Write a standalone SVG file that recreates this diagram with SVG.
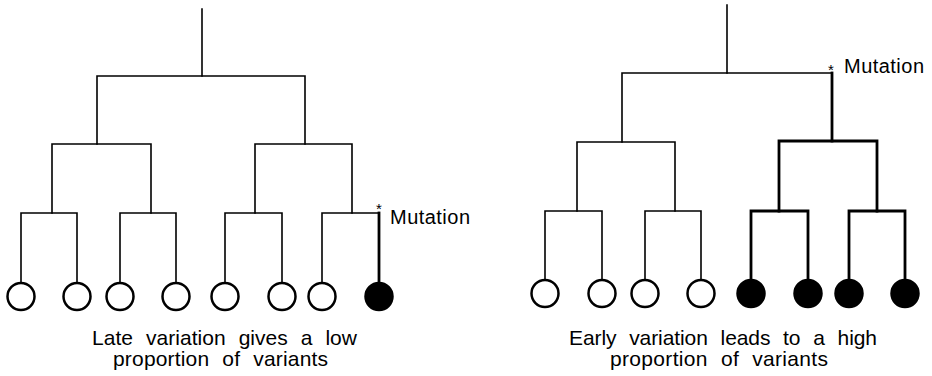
<svg xmlns="http://www.w3.org/2000/svg" width="932" height="376" viewBox="0 0 932 376">
<style>
.c{fill:none;stroke:#000;stroke-width:1.6;stroke-linecap:square}
.b{fill:none;stroke:#000;stroke-width:2.8;stroke-linecap:square}
.open{fill:#fff;stroke:#000;stroke-width:2.5}
.full{fill:#000;stroke:#000;stroke-width:2.5}
text{font-family:"Liberation Sans",Arial,Helvetica,sans-serif;fill:#000}
.cap{font-size:21px;word-spacing:7px}
.mut{font-size:20px}
.ast{font-size:15px}
</style>
<rect width="932" height="376" fill="#fff"/>
<g id="connectors">
  <path class="c" d="M202 9V76"/>
  <path class="c" d="M97 144V76H305V144"/>
  <path class="c" d="M52 213V144H151V213"/>
  <path class="c" d="M255 213V144H352V213"/>
  <path class="c" d="M21 282V213H77V282"/>
  <path class="c" d="M120 282V213H176V282"/>
  <path class="c" d="M225 282V213H282V282"/>
  <path class="c" d="M322 282V213H379"/>
  <path class="b" d="M379 213V282"/>
  <path class="c" d="M727 5V73"/>
  <path class="c" d="M622 142V73H832"/>
  <path class="b" d="M832 73V141"/>
  <path class="c" d="M577 211V142H675V211"/>
  <path class="b" d="M779 211V141H877V211"/>
  <path class="c" d="M545 279V211H602V279"/>
  <path class="c" d="M645 279V211H701V279"/>
  <path class="b" d="M751 279V211H808V279"/>
  <path class="b" d="M849 279V211H905V279"/>
</g>
<g id="leaf-L1"><circle class="open" cx="21" cy="296.5" r="13.5"/></g>
<g id="leaf-L2"><circle class="open" cx="77" cy="296.5" r="13.5"/></g>
<g id="leaf-L3"><circle class="open" cx="120" cy="296.5" r="13.5"/></g>
<g id="leaf-L4"><circle class="open" cx="176" cy="296.5" r="13.5"/></g>
<g id="leaf-L5"><circle class="open" cx="225" cy="296.5" r="13.5"/></g>
<g id="leaf-L6"><circle class="open" cx="282" cy="296.5" r="13.5"/></g>
<g id="leaf-L7"><circle class="open" cx="322" cy="296.5" r="13.5"/></g>
<g id="leaf-L8"><circle class="full" cx="379" cy="296.5" r="13.5"/></g>
<g id="leaf-R1"><circle class="open" cx="545" cy="293.5" r="13.5"/></g>
<g id="leaf-R2"><circle class="open" cx="602" cy="293.5" r="13.5"/></g>
<g id="leaf-R3"><circle class="open" cx="645" cy="293.5" r="13.5"/></g>
<g id="leaf-R4"><circle class="open" cx="701" cy="293.5" r="13.5"/></g>
<g id="leaf-R5"><circle class="full" cx="751" cy="293.5" r="13.5"/></g>
<g id="leaf-R6"><circle class="full" cx="808" cy="293.5" r="13.5"/></g>
<g id="leaf-R7"><circle class="full" cx="849" cy="293.5" r="13.5"/></g>
<g id="leaf-R8"><circle class="full" cx="905" cy="293.5" r="13.5"/></g>
<g id="mutation-left">
  <text class="ast" x="379" y="214" text-anchor="middle">*</text>
  <text class="mut" x="390" y="224" textLength="80" lengthAdjust="spacing">Mutation</text>
</g>
<g id="mutation-right">
  <text class="ast" x="831" y="75" text-anchor="middle">*</text>
  <text class="mut" x="844" y="73" textLength="80" lengthAdjust="spacing">Mutation</text>
</g>
<g id="caption-left">
  <text class="cap" x="92" y="345" textLength="265" lengthAdjust="spacing">Late variation gives a low</text>
  <text class="cap" x="113" y="366" textLength="215" lengthAdjust="spacing">proportion of variants</text>
</g>
<g id="caption-right">
  <text class="cap" x="569" y="345" textLength="308" lengthAdjust="spacing">Early variation leads to a high</text>
  <text class="cap" x="610" y="366" textLength="218" lengthAdjust="spacing">proportion of variants</text>
</g>
</svg>
